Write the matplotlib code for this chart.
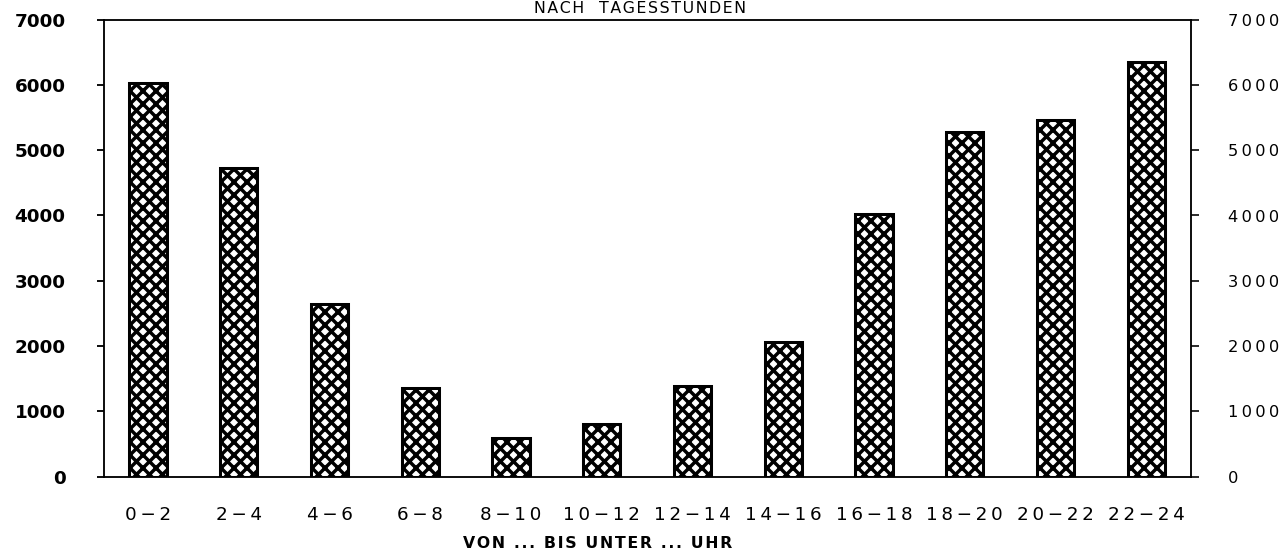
import matplotlib
matplotlib.use('Agg')
import matplotlib.pyplot as plt

# Verkehrsaufkommen nach Tageszeit
hours = ['0-2', '2-4', '4-6', '6-8', '8-10', '10-12',
         '12-14', '14-16', '16-18', '18-20', '20-22', '22-24']
counts = [6030, 4730, 2640, 1360, 600, 810,
          1390, 2070, 4020, 5280, 5470, 6350]
y_ticks = [0, 1000, 2000, 3000, 4000, 5000, 6000, 7000]

title = 'NACH  TAGESSTUNDEN'
xlabel = 'VON ... BIS UNTER ... UHR'


def spaced(s, sep='\u2009'):
    # wide letter spacing like the old plotter fonts
    return sep.join(s.replace('-', '\u2212'))


DPI = 78
W, H = 1288, 551
plt.rcParams['hatch.linewidth'] = 3.2
plt.rcParams['font.family'] = 'DejaVu Sans'

fig = plt.figure(figsize=(W / DPI, H / DPI), dpi=DPI)
ax = fig.add_axes([104 / W, 1 - 476.7 / H, (1190.7 - 104) / W, (476.7 - 19.6) / H])

x = range(len(hours))
ax.bar(x, counts, width=0.41, color='white', edgecolor='black',
       hatch='xx', linewidth=2.8, zorder=2)

ax.set_xlim(-0.485, 11.49)
ax.set_ylim(0, 7000)

for s in ax.spines.values():
    s.set_linewidth(1.7)
    s.set_color('black')

ax.set_xticks(list(x))
ax.set_xticklabels([spaced(h) for h in hours], fontsize=17)
ax.tick_params(axis='x', length=0, pad=27)

ax.set_yticks(y_ticks)
ax.set_yticklabels([str(v) for v in y_ticks], fontsize=17, fontweight='bold')
ax.tick_params(axis='y', direction='out', length=6.5, width=1.7, pad=29)

ax2 = ax.twinx()
ax2.set_ylim(0, 7000)
ax2.set_yticks(y_ticks)
ax2.set_yticklabels([spaced(str(v)) for v in y_ticks], fontsize=15)
ax2.tick_params(axis='y', direction='out', length=7, width=1.5, pad=27)
for s in ax2.spines.values():
    s.set_visible(False)

fig.text(640 / W, 1 - 1 / H, spaced(title, '\u200a'), ha='center', va='top',
         fontsize=14.5)
fig.text(598 / W, 1 - 543 / H, spaced(xlabel, '\u200a'), ha='center', va='center',
         fontsize=14.5, fontweight='bold')

fig.savefig('out.png', dpi=DPI)
